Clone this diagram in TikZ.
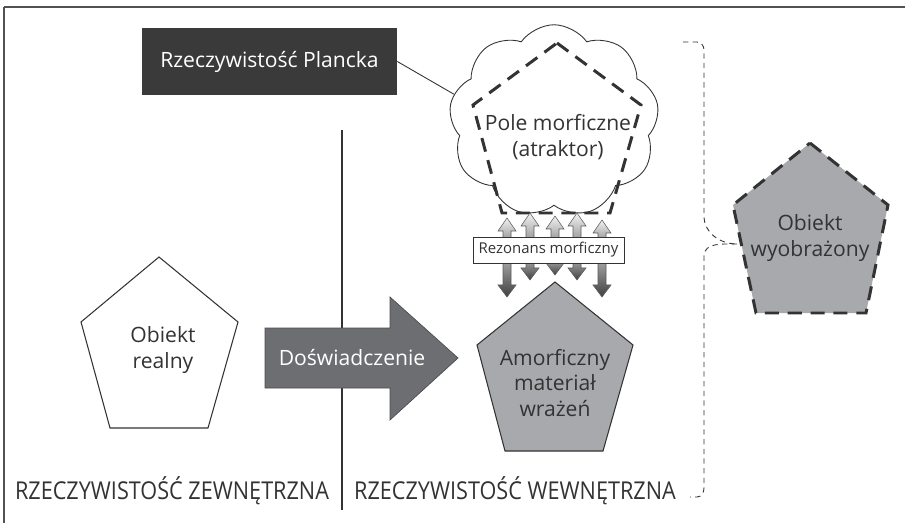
\documentclass[tikz,border=0pt]{standalone}
\usepackage{fontspec}
\setmainfont{Open Sans}
\newfontfamily\capsfont[FakeStretch=0.88]{Open Sans}
\usetikzlibrary{shapes.symbols}

\definecolor{inkgray}{HTML}{333333}
\definecolor{boxdark}{HTML}{3A3A3B}
\definecolor{arrowgray}{HTML}{6D6E71}
\definecolor{pentgray}{HTML}{A7A9AC}

\tikzset{
  plaintext/.style={text=inkgray, align=center, font=\fontsize{12}{14.5}\selectfont},
  realm/.style={text=inkgray, font=\capsfont\fontsize{14}{16}\selectfont},
  upflow/.style={draw=inkgray!80, line width=0.3pt, top color=white!95!black, bottom color=black!40},
  downflow/.style={draw=inkgray!80, line width=0.3pt, top color=black!35, bottom color=black!75},
  bigdash/.style={draw=inkgray, line width=1.7pt, dash pattern=on 8pt off 5pt},
  bracedash/.style={draw=inkgray, line width=0.5pt, dash pattern=on 3pt off 2.5pt},
}

\begin{document}
\begin{tikzpicture}[x=0.02cm,y=-0.02cm]
\useasboundingbox (0,0) rectangle (905,523);
\draw[inkgray!85, line width=1.2pt] (4,7) -- (905,7);
\draw[inkgray!85, line width=0.8pt] (4,7) -- (4,523);
\draw[inkgray, line width=0.6pt] (342,130) -- (342,510);

\node[fill=boxdark, text=white, minimum width=5.1cm, minimum height=1.34cm, font=\fontsize{12}{14.5}\selectfont] (planck) at (269.5,61.5) {Rzeczywistość Plancka};
\node[cloud, cloud puffs=9, cloud puff arc=110, draw=inkgray, line width=0.5pt, fill=white, minimum width=4.2cm, minimum height=3.85cm] (pole) at (554,121) {};
\draw[inkgray, line width=0.5pt] (planck.east) -- (pole.165);
\draw[bigdash] (557,43) -- (641,105) -- (610,213) -- (502,213) -- (473,105) -- cycle;
\node[plaintext] (polelabel) at (558,137) {Pole morficzne\\(atraktor)};

\foreach \x/\up/\down in {507/218/297, 530/213/280, 555/216/275, 577/213/280, 602/220/297} {
  \path[upflow] (\x-4,240) -- (\x-4,\up+13) -- (\x-9,\up+13) -- (\x,\up) -- (\x+9,\up+13) -- (\x+4,\up+13) -- (\x+4,240) -- cycle;
  \path[downflow] (\x-4,260) -- (\x-4,\down-12) -- (\x-9,\down-12) -- (\x,\down) -- (\x+9,\down-12) -- (\x+4,\down-12) -- (\x+4,260) -- cycle;
}
\node[draw=inkgray, fill=white, minimum width=3.02cm, minimum height=0.52cm, inner sep=0pt, text=inkgray, font=\fontsize{8.5}{10}\selectfont] (rezonans) at (548.5,250) {Rezonans morficzny};

\draw[inkgray, line width=0.6pt, fill=pentgray] (555,282) -- (633,345) -- (603,451) -- (505,451) -- (477,345) -- cycle;
\node[plaintext] (amorf) at (555,383) {Amorficzny\\materiał\\wrażeń};

\draw[inkgray, line width=0.6pt, fill=white] (159,257) -- (238,322) -- (208,428) -- (110,428) -- (81,322) -- cycle;
\node[plaintext] (realny) at (163,350) {Obiekt\\realny};

\draw[bigdash, fill=pentgray] (810,143) -- (888,205) -- (866,313) -- (756,313) -- (733,205) -- cycle;
\node[plaintext] (wyobr) at (810,238) {Obiekt\\wyobrażony};

\draw[fill=arrowgray, draw=arrowgray!70!black, line width=0.4pt] (265,328) -- (390,328) -- (390,297) -- (458,358) -- (390,420) -- (390,388) -- (265,388) -- cycle;
\node[plaintext, text=white] (dosw) at (352,358) {Doświadczenie};

\draw[bracedash] (683,42) -- (697,42) to[out=0,in=90] (704,50) -- (704,216) to[out=-90,in=180] (737,244);
\draw[bracedash] (737,244) to[out=180,in=90] (704,256) -- (704,488) to[out=-90,in=0] (697,497) -- (690,497);

\node[realm] (zewn) at (172,491) {RZECZYWISTOŚĆ ZEWNĘTRZNA};
\node[realm] (wewn) at (515,491) {RZECZYWISTOŚĆ WEWNĘTRZNA};
\end{tikzpicture}
\end{document}
